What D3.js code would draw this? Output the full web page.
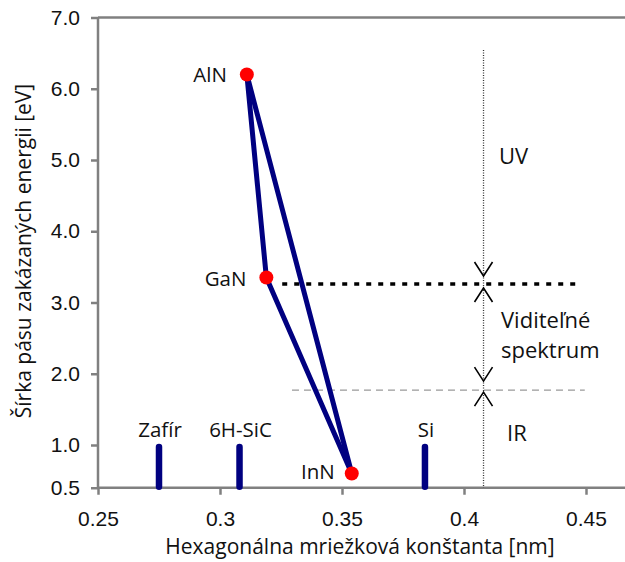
<!DOCTYPE html>
<html>
<head>
<meta charset="utf-8">
<script src="https://cdn.jsdelivr.net/npm/d3@7"></script>
<style>
  body { margin: 0; background: #fff; }
  svg { display: block; }
  .tick text { font-family: "Liberation Sans", Arial, sans-serif; font-size: 21px; fill: #111; }
  .lbl { font-family: "Open Sans", "Noto Sans", sans-serif; font-size: 20.5px; fill: #111; }
</style>
</head>
<body>
<svg id="chart"></svg>
<script>
// nitride semiconductors: lattice constant [nm] vs band gap [eV]
const materials = ["AlN", "GaN", "InN"];
const latticeConst = [0.311, 0.319, 0.354];
const bandGap = [6.2, 3.35, 0.6];

// substrates (lattice constant only)
const substrates = ["Zafír", "6H-SiC", "Si"];
const substrateConst = [0.275, 0.308, 0.384];
const substrateTop = 1.0;

// spectrum borders
const uvBorder = 3.26;
const irBorder = 1.77;
const spectrumX = 0.408;

const xTicks = [0.25, 0.3, 0.35, 0.4, 0.45];
const xTickLabels = ["0.25", "0.3", "0.35", "0.4", "0.45"];
const yTicks = [0.4, 1, 2, 3, 4, 5, 6, 7];
const yTickLabels = ["0.5", "1.0", "2.0", "3.0", "4.0", "5.0", "6.0", "7.0"];

const width = 625, height = 562;
const svg = d3.select("#chart").attr("width", width).attr("height", height);

// scales
const x = d3.scaleLinear().domain([0.25, 0.45]).range([98, 586]);
const y = d3.scaleLinear().domain([1, 7]).range([445, 17.5]);
const yMin = 0.4, xMax = x.invert(width + 5);

const axisColor = "#808080";

// top border
svg.append("line")
    .attr("x1", x(0.25)).attr("x2", x(xMax))
    .attr("y1", y(7)).attr("y2", y(7))
    .attr("stroke", axisColor).attr("stroke-width", 2.5);

// x axis
const xAxis = d3.axisBottom(x)
    .tickValues(xTicks)
    .tickFormat((d, i) => xTickLabels[i])
    .tickSizeInner(7).tickSizeOuter(0).tickPadding(16);
const gx = svg.append("g")
    .attr("transform", "translate(0," + y(yMin) + ")")
    .call(xAxis);
gx.select(".domain").attr("d", "M" + x(0.25) + ",0H" + x(xMax));

// y axis
const yAxis = d3.axisLeft(y)
    .tickValues(yTicks)
    .tickFormat((d, i) => yTickLabels[i])
    .tickSizeInner(7).tickSizeOuter(0).tickPadding(11);
const gy = svg.append("g")
    .attr("transform", "translate(" + x(0.25) + ",0)")
    .call(yAxis);
gy.select(".domain").attr("d", "M0," + y(yMin) + "V" + y(7));

svg.selectAll(".domain, .tick line")
    .attr("stroke", axisColor).attr("stroke-width", 2.5);

// axis titles
svg.append("text").attr("class", "lbl")
    .attr("x", 360).attr("y", 554)
    .attr("text-anchor", "middle")
    .style("font-size", "21px")
    .text("Hexagonálna mriežková konštanta [nm]");

svg.append("text").attr("class", "lbl")
    .attr("transform", "translate(31,251) rotate(-90)")
    .attr("text-anchor", "middle")
    .style("font-size", "21px")
    .text("Šírka pásu zakázaných energii [eV]");

// spectrum border lines
svg.append("line")
    .attr("x1", x(0.3255)).attr("x2", x(0.4475))
    .attr("y1", y(uvBorder)).attr("y2", y(uvBorder))
    .attr("stroke", "#000").attr("stroke-width", 3.5)
    .attr("stroke-dasharray", "5,7");

svg.append("line")
    .attr("x1", x(0.3295)).attr("x2", x(0.4495))
    .attr("y1", y(irBorder)).attr("y2", y(irBorder))
    .attr("stroke", "#999").attr("stroke-width", 1.3)
    .attr("stroke-dasharray", "7,5");

svg.append("line")
    .attr("x1", x(spectrumX)).attr("x2", x(spectrumX))
    .attr("y1", 50).attr("y2", y(yMin))
    .attr("stroke", "#333").attr("stroke-width", 1.3)
    .attr("stroke-dasharray", "1,1.5");

// chevrons at the borders
function chevron(cx, tipY, dir) {
    const h = 14 * dir, w = 9;
    svg.append("path")
        .attr("d", "M" + (cx - w) + "," + (tipY - h) + "L" + cx + "," + tipY + "L" + (cx + w) + "," + (tipY - h))
        .attr("fill", "none").attr("stroke", "#000").attr("stroke-width", 1.6);
}
chevron(x(spectrumX), y(uvBorder) - 8, 1);
chevron(x(spectrumX), y(uvBorder) + 4, -1);
chevron(x(spectrumX), y(irBorder) - 9, 1);
chevron(x(spectrumX), y(irBorder) + 2, -1);

// region labels
svg.append("text").attr("class", "lbl").attr("x", 499).attr("y", 164).style("font-size", "22px").text("UV");
svg.append("text").attr("class", "lbl").attr("x", 501).attr("y", 328).style("font-size", "22px").text("Viditeľné");
svg.append("text").attr("class", "lbl").attr("x", 501).attr("y", 358).style("font-size", "22px").text("spektrum");
svg.append("text").attr("class", "lbl").attr("x", 507).attr("y", 441).style("font-size", "22px").text("IR");

// substrate bars
substrates.forEach((s, i) => {
    svg.append("line")
        .attr("x1", x(substrateConst[i])).attr("x2", x(substrateConst[i]))
        .attr("y1", y(substrateTop) + 2).attr("y2", y(yMin) - 1)
        .attr("stroke", "#000080").attr("stroke-width", 6.5)
        .attr("stroke-linecap", "round");
    svg.append("text").attr("class", "lbl")
        .attr("x", x(substrateConst[i]) + 1).attr("y", 437)
        .attr("text-anchor", "middle")
        .text(s);
});

// triangle between AlN, GaN and InN
const pairs = [[0, 1], [1, 2], [0, 2]];
pairs.forEach(([a, b]) => {
    svg.append("line")
        .attr("x1", x(latticeConst[a])).attr("y1", y(bandGap[a]))
        .attr("x2", x(latticeConst[b])).attr("y2", y(bandGap[b]))
        .attr("stroke", "#000080").attr("stroke-width", 5)
        .attr("stroke-linecap", "round");
});

const labelDx = [-20, -20, -17], labelDy = [7, 8, 5];
materials.forEach((m, i) => {
    svg.append("circle")
        .attr("cx", x(latticeConst[i])).attr("cy", y(bandGap[i]))
        .attr("r", 7).attr("fill", "#ff0000");
    svg.append("text").attr("class", "lbl")
        .attr("x", x(latticeConst[i]) + labelDx[i]).attr("y", y(bandGap[i]) + labelDy[i])
        .attr("text-anchor", "end")
        .text(m);
});
</script>
</body>
</html>
